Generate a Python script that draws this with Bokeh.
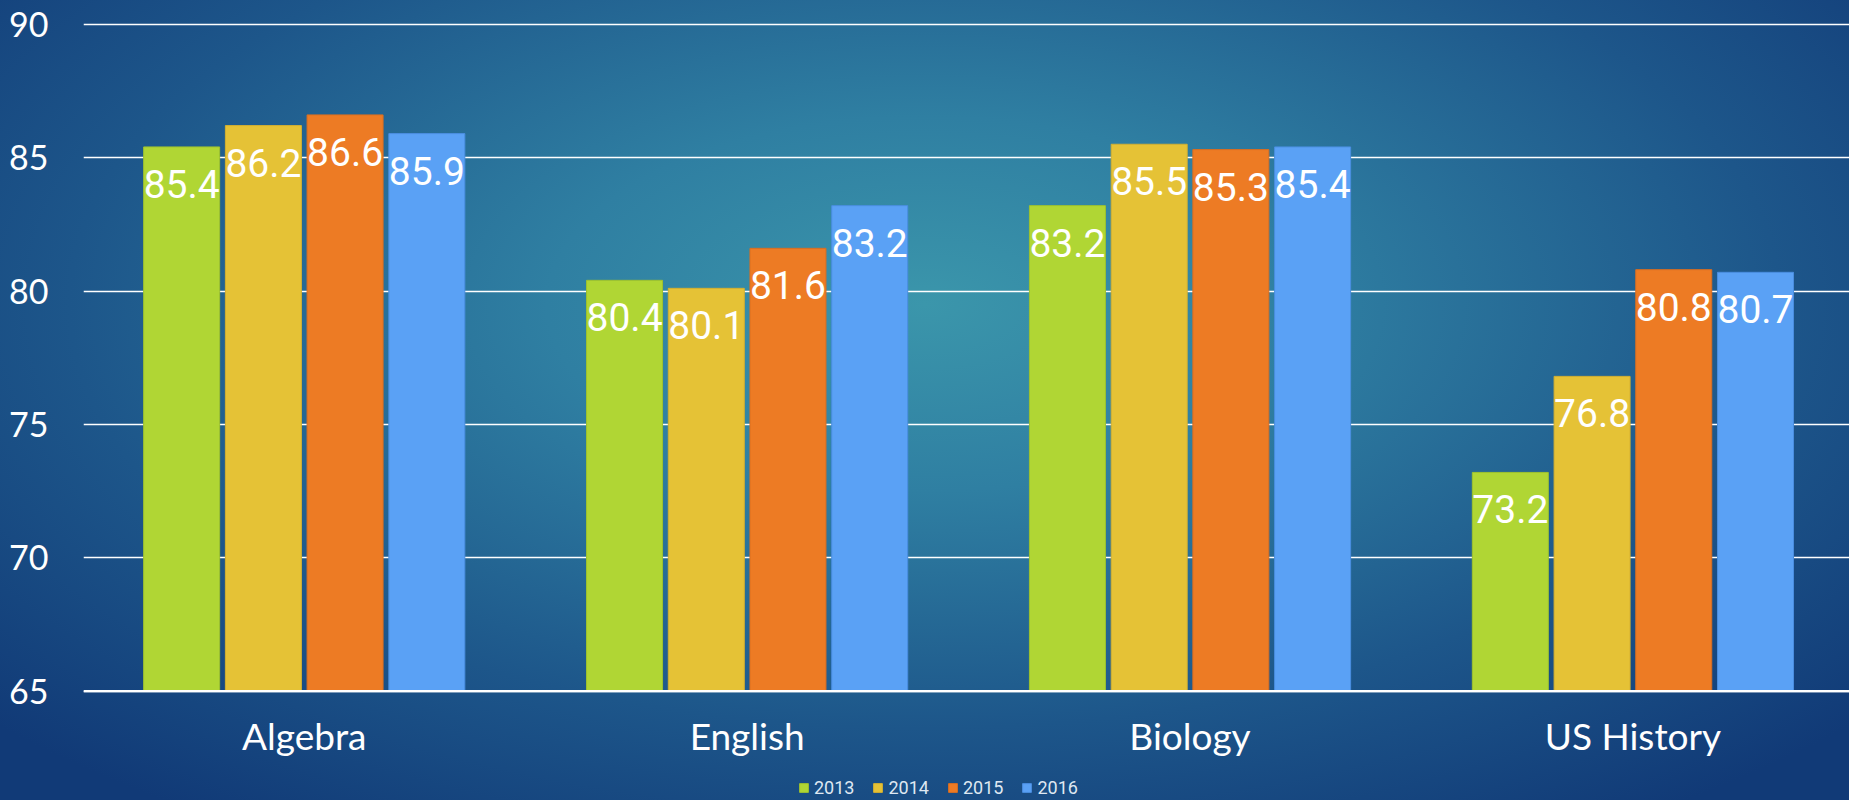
from bokeh.plotting import figure
from bokeh.models import ColumnDataSource, Range1d, FixedTicker, Legend, LegendItem, Span
from bokeh.core.properties import value
from bokeh.embed import file_html
from bokeh.resources import INLINE

categories = ["Algebra", "English", "Biology", "US History"]
years = ["2013", "2014", "2015", "2016"]
scores_2013 = [85.4, 80.4, 83.2, 73.2]
scores_2014 = [86.2, 80.1, 85.5, 76.8]
scores_2015 = [86.6, 81.6, 85.3, 80.8]
scores_2016 = [85.9, 83.2, 85.4, 80.7]
series = [scores_2013, scores_2014, scores_2015, scores_2016]
colors = ["#B0D634", "#E5C236", "#ED7B24", "#5AA1F5"]
edges = ["#9EC22E", "#D4B030", "#DA6E20", "#4A8EE0"]
y_ticks = [65, 70, 75, 80, 85, 90]
y_floor = y_ticks[0]

W, H = 1849, 800
p = figure(width=W, height=H, output_backend="svg", toolbar_location=None,
           x_range=Range1d(0.5016, 4.489), y_range=Range1d(60.903, 90.064),
           min_border_left=83, min_border_right=0, min_border_top=22,
           min_border_bottom=0)
p.styles = {"background": "radial-gradient(ellipse 68% 78% at 50% 38%, #3b96ab 0%, #2f7fa2 30%, #1d568a 68%, #113a77 100%)"}
p.background_fill_alpha = 0
p.border_fill_alpha = 0
p.outline_line_color = None

offsets = [-0.2768, -0.0922, 0.0922, 0.2768]
bar_w = 0.1716
xpos = list(range(1, len(categories) + 1))
renderers = []
for i, (vals, col) in enumerate(zip(series, colors)):
    src = ColumnDataSource(dict(x=[x + offsets[i] for x in xpos], top=vals,
                                lab=[f"{v:.1f}" for v in vals]))
    r = p.vbar(x="x", top="top", bottom=y_floor, width=bar_w, source=src,
               fill_color=col, line_color=edges[i], line_width=1)
    renderers.append(r)
    p.text(x="x", y="top", text="lab", source=src, text_align="center",
           text_baseline="alphabetic", y_offset=37, text_color="white",
           text_font=value("Roboto"), text_font_size="39px")

p.xgrid.grid_line_color = None
p.ygrid.grid_line_color = "white"
p.ygrid.grid_line_width = 1.6
p.ygrid.ticker = FixedTicker(ticks=y_ticks)

p.add_layout(Span(location=y_floor, dimension="width", line_color="white", line_width=2.2))

p.yaxis.ticker = FixedTicker(ticks=y_ticks)
p.yaxis.axis_line_color = None
p.yaxis.major_tick_line_color = None
p.yaxis.minor_tick_line_color = None
p.yaxis.major_label_standoff = 29
p.yaxis.major_label_text_font = "Lato"
p.yaxis.major_label_text_font_size = "34px"
p.yaxis.major_label_text_color = "white"

p.xaxis.visible = False

cat_src = ColumnDataSource(dict(x=xpos, y=[y_floor] * len(xpos), name=categories))
p.text(x="x", y="y", text="name", source=cat_src, text_align="center",
       text_baseline="alphabetic", y_offset=44, text_color="white",
       text_font=value("Lato"), text_font_size="37px")

legend = Legend(items=[LegendItem(label=y, renderers=[r]) for y, r in zip(years, renderers)],
                orientation="horizontal", location=(715, 2))
legend.background_fill_alpha = 0
legend.border_line_alpha = 0
legend.padding = 0
legend.margin = 0
legend.spacing = 18
legend.glyph_width = 11
legend.glyph_height = 11
legend.label_standoff = 5
legend.label_height = 20
legend.label_text_font = "Roboto"
legend.label_text_font_size = "18px"
legend.label_text_color = "#dfe8f2"
p.add_layout(legend, "center")

open("out.html", "w").write(file_html(p, INLINE))
